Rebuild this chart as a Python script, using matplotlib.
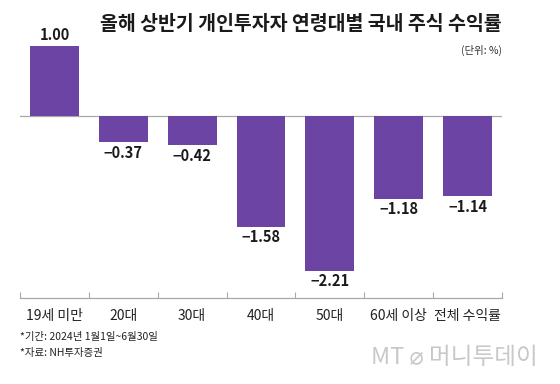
import matplotlib
matplotlib.use("Agg")
import matplotlib.pyplot as plt

plt.rcParams['font.family'] = ['Noto Sans CJK KR', 'DejaVu Sans']
plt.rcParams['axes.unicode_minus'] = True

categories = ['19세 미만', '20대', '30대', '40대', '50대', '60세 이상', '전체 수익률']
returns = [1.00, -0.37, -0.42, -1.58, -2.21, -1.18, -1.14]

title = '올해 상반기 개인투자자 연령대별 국내 주식 수익률'
unit = '(단위: %)'
notes = ['*기간: 2024년 1월1일~6월30일', '*자료: NH투자증권']

bar_color = '#6c44a4'

fig = plt.figure(figsize=(5.6, 3.84), dpi=100)
ax = fig.add_axes([20 / 560, 1 - 298 / 384, 482 / 560, 252 / 384])

x = list(range(len(categories)))
ax.bar(x, returns, width=0.71, color=bar_color, zorder=2)
ax.axhline(0, color='#a8a8a8', lw=0.9, zorder=1)

for xi, v in zip(x, returns):
    txt = f'{v:.2f}'.replace('-', '\u2212')
    if v >= 0:
        ax.annotate(txt, (xi, v), xytext=(0, 2), textcoords='offset points',
                    ha='center', va='bottom', fontsize=10.5, fontweight='bold', color='#1a1a1a')
    else:
        ax.annotate(txt, (xi, v), xytext=(0, -2), textcoords='offset points',
                    ha='center', va='top', fontsize=10.5, fontweight='bold', color='#1a1a1a')

ax.set_xlim(-0.5, len(categories) - 0.5)
ax.set_ylim(-2.6, 1.0)

for s in ['top', 'right', 'left']:
    ax.spines[s].set_visible(False)
ax.spines['bottom'].set_color('#a8a8a8')
ax.spines['bottom'].set_linewidth(0.9)

ax.set_yticks([])
ax.set_xticks([i - 0.5 for i in range(len(categories) + 1)])
ax.set_xticklabels([])
ax.tick_params(axis='x', direction='in', length=4, color='#a8a8a8', width=0.8)
ax.set_xticks(x, minor=True)
ax.set_xticklabels(categories, minor=True, fontsize=10, color='#222222')
ax.tick_params(axis='x', which='minor', length=0, pad=8)

fig.text(502 / 560, 1 - 25 / 384, title, ha='right', va='center',
         fontsize=14, fontweight='heavy', color='#1a1a1a')
fig.text(502 / 560, 1 - 50 / 384, unit, ha='right', va='center',
         fontsize=7.5, color='#333333')
fig.text(20 / 560, 1 - 337 / 384, notes[0], ha='left', va='center',
         fontsize=7.5, color='#222222')
fig.text(20 / 560, 1 - 353 / 384, notes[1], ha='left', va='center',
         fontsize=7.5, color='#222222')
fig.text(538 / 560, 1 - 358 / 384, 'MT \u2300 머니투데이', ha='right', va='center',
         fontsize=17, color='#c8c8c8')

fig.savefig('out.png', dpi=100, facecolor='white')
